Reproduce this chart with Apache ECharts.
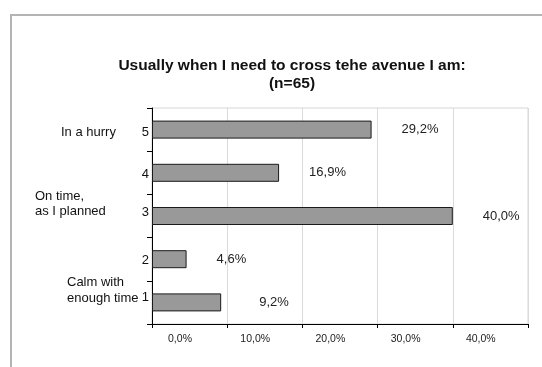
<!DOCTYPE html>
<html>
<head>
<meta charset="utf-8">
<script src="https://cdn.jsdelivr.net/npm/echarts@6/dist/echarts.min.js"></script>
<style>
  html, body { margin: 0; padding: 0; background: #ffffff; }
  #chart { width: 542px; height: 367px; }
</style>
</head>
<body>
<div id="chart"></div>
<script>
// Survey answers, bottom to top
const categories = ['1', '2', '3', '4', '5'];
const shares = [9.2, 4.6, 40.0, 16.9, 29.2];
const xTicks = [0, 10, 20, 30, 40, 50];
const titleLines = ['Usually when I need to cross tehe avenue I am:', '(n=65)'];
// Verbal descriptions attached to some of the scale points
const descCategories = ['5', '3', '1'];
const descTexts = ['In a hurry', 'On time,\nas I planned', 'Calm with\nenough time'];

const FONT = '"Liberation Sans", Arial, Helvetica, sans-serif';
const pct = v => v.toFixed(1).replace('.', ',') + '%';

// Vertical nudge of each scale number (px, + = down), bottom to top
const numDy = [-5, 1, -4, 2, 3];
const rich = {};
categories.forEach((c, i) => {
  const d = numDy[i];
  rich['n' + i] = {
    fontFamily: FONT, fontSize: 13, color: '#111111',
    padding: d >= 0 ? [2 * d, 0, 0, 0] : [0, 0, -2 * d, 0]
  };
});

const chart = echarts.init(document.getElementById('chart'), null, { renderer: 'canvas' });

chart.setOption({
  animation: false,
  backgroundColor: '#ffffff',
  textStyle: { fontFamily: FONT },
  title: {
    text: titleLines.join('\n'),
    left: 287,
    top: 52,
    textAlign: 'center',
    textStyle: {
      fontFamily: FONT, fontSize: 15.5, fontWeight: 'bold', color: '#111111', lineHeight: 18
    }
  },
  grid: {
    left: 152, top: 108, right: 14, bottom: 43,
    show: true, borderColor: '#d6d6d6', borderWidth: 1, backgroundColor: 'transparent'
  },
  xAxis: {
    type: 'value',
    min: xTicks[0],
    max: xTicks[xTicks.length - 1],
    interval: xTicks[1] - xTicks[0],
    axisLine: { show: true, lineStyle: { color: '#000000', width: 1 } },
    axisTick: { show: true, length: 4, lineStyle: { color: '#000000' } },
    splitLine: { show: true, lineStyle: { color: '#dadada', width: 1 } },
    axisLabel: {
      fontFamily: FONT, fontSize: 10.5, color: '#222222', margin: 10,
      padding: [0, 0, 0, 56],
      formatter: v => (v === xTicks[xTicks.length - 1] ? '' : pct(v))
    }
  },
  yAxis: {
    type: 'category',
    data: categories,
    axisLine: { show: true, lineStyle: { color: '#000000', width: 1 } },
    axisTick: { show: true, length: 5, lineStyle: { color: '#000000' } },
    splitLine: { show: false },
    axisLabel: {
      fontFamily: FONT, fontSize: 13, color: '#111111', margin: 3,
      formatter: (v, i) => '{n' + i + '|' + v + '}',
      rich: rich
    }
  },
  series: [{
    type: 'bar',
    barWidth: 18,
    data: shares.map((v, i) => (i === 0
      ? { value: v, label: { distance: 38 } }
      : v)),
    itemStyle: { color: '#999999', borderColor: '#1a1a1a', borderWidth: 1 },
    label: {
      show: true, position: 'right', distance: 30,
      fontFamily: FONT, fontSize: 13, color: '#222222',
      formatter: p => pct(p.value)
    }
  }]
});

// Outer chart frame plus the verbal scale descriptions
const descLeft = [61, 35, 67];
const descDy = [3, -12, -12];
const graphics = [{
  type: 'rect', silent: true, z: 0,
  shape: { x: 11, y: 15, width: 600, height: 400 },
  style: { fill: 'none', stroke: '#b4b4b4', lineWidth: 2 }
}];
descCategories.forEach((c, i) => {
  const y = chart.convertToPixel({ yAxisIndex: 0 }, c);
  graphics.push({
    type: 'text', silent: true,
    x: descLeft[i], y: y + descDy[i],
    style: {
      text: descTexts[i], font: '13px ' + FONT, fill: '#111111',
      align: 'left', verticalAlign: 'middle', lineHeight: 15.5
    }
  });
});
chart.setOption({ graphic: graphics });
</script>
</body>
</html>
